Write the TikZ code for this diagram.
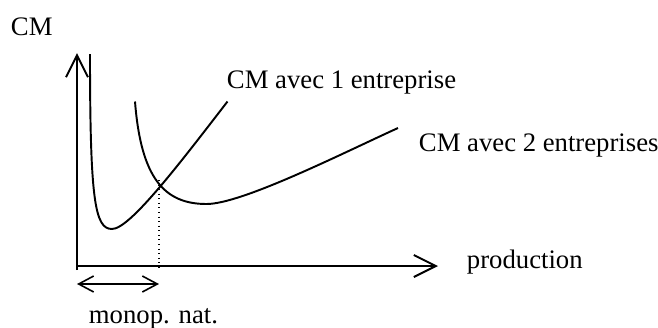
\documentclass[tikz,border=0pt]{standalone}
\usepackage{fontspec}
\setmainfont{Liberation Serif}
\usetikzlibrary{arrows.meta}

\begin{document}
\begin{tikzpicture}[
        line width=1.1pt,
        axis/.style={-{Straight Barb[length=0.44cm, width=0.44cm]}},
        span/.style={{Straight Barb[length=0.3cm, width=0.32cm]}-{Straight Barb[length=0.3cm, width=0.32cm]}, line width=0.9pt},
        lbl/.style={anchor=base west, inner sep=0pt, font=\fontsize{15.2}{18}\selectfont}
    ]
    \useasboundingbox (-1.54,-1.22) rectangle (11.62,5.32);

    \coordinate (o) at (0,0);
    \coordinate (ytop) at (0,4.26);
    \coordinate (ybot) at (0,-0.08);
    \coordinate (xend) at (7.22,0);
    \coordinate (dottop) at (1.64,1.72);
    \coordinate (dotbot) at (1.64,-0.08);
    \coordinate (spanl) at (0,-0.36);
    \coordinate (spanr) at (1.64,-0.36);

    \node[lbl] (cm) at (-1.34,4.62) {CM};
    \node[lbl] (cmone) at (2.98,3.55) {CM avec 1 entreprise};
    \node[lbl] (cmtwo) at (6.82,2.29) {CM avec 2 entreprises};
    \node[lbl] (prod) at (7.78,-0.05) {production};
    \node[lbl] (monop) at (0.22,-1.15) {monop. nat.};

    \draw[axis] (ybot) -- (ytop);
    \draw[axis] (o) -- (xend);
    \draw[dotted, line width=0.6pt] (dottop) -- (dotbot);
    \draw[span] (spanl) -- (spanr);

    % CM avec 1 entreprise
    \draw (0.26,4.24) .. controls (0.26,1.3) and (0.36,0.74) .. (0.70,0.74)
        .. controls (1.05,0.74) and (2.0,1.98) .. (3.01,3.29);
    % CM avec 2 entreprises
    \draw (1.16,3.29) .. controls (1.28,1.75) and (1.75,1.24) .. (2.59,1.24)
        .. controls (3.3,1.24) and (5.3,2.25) .. (6.42,2.76);
\end{tikzpicture}
\end{document}
